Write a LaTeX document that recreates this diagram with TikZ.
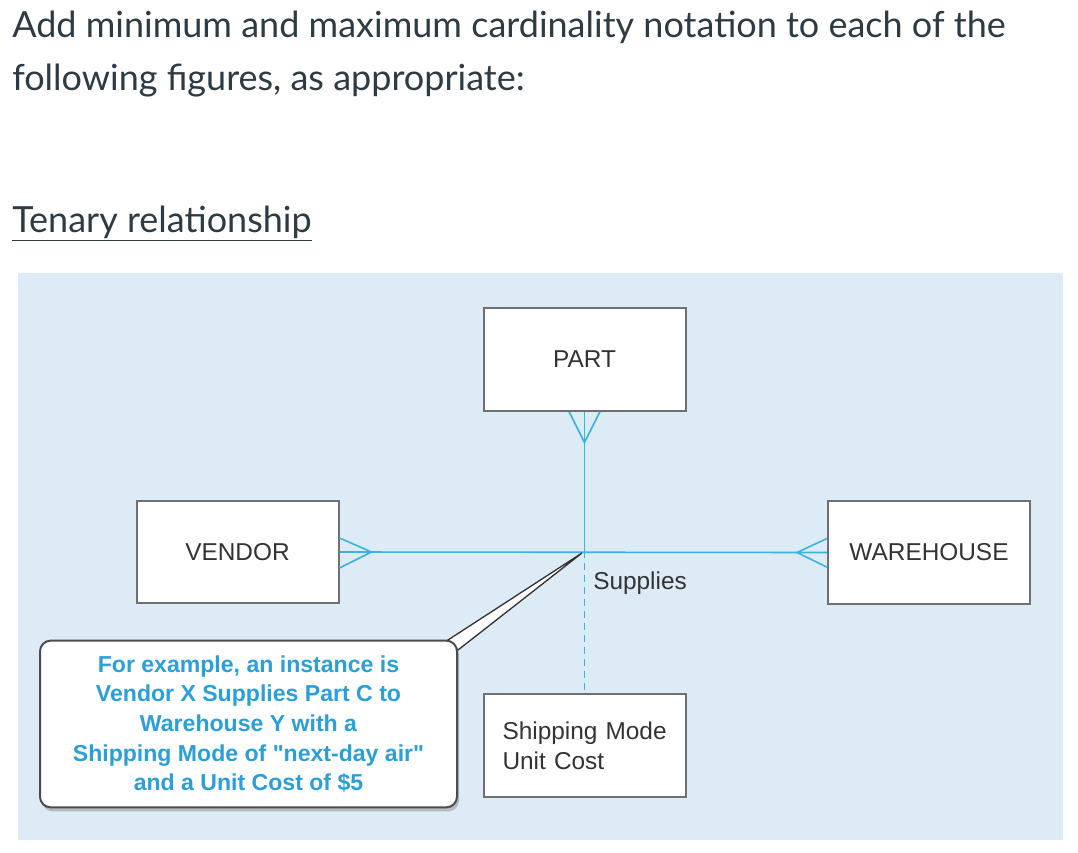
\documentclass[tikz,border=0pt]{standalone}
\usepackage{fontspec}
\setmainfont{Liberation Sans}
\newfontfamily\lato{Lato}
\usetikzlibrary{shadows}
\definecolor{panel}{HTML}{DDEBF7}
\definecolor{rel}{HTML}{3CB3DE}
\definecolor{note}{HTML}{2A9FD8}
\definecolor{boxline}{HTML}{707070}
\definecolor{ink}{HTML}{2D3B45}
\tikzset{
  entity/.style={draw=boxline, line width=1.5pt, fill=white, minimum width=151.5pt, minimum height=77pt, inner sep=0pt, font=\fontsize{18.3}{22.5}\selectfont, text=black!80},
  relline/.style={draw=rel, line width=1.2pt},
  head/.style={anchor=base west, inner sep=0pt, text=ink, font=\lato\fontsize{27}{32}\selectfont},
}
\begin{document}
\begin{tikzpicture}[x=0.75pt, y=-0.75pt]
\path[fill=white] (0,0) rectangle (1078,853);
\useasboundingbox (0,0) rectangle (1078,853);
\node[head] (h1) at (12,37) {Add minimum and maximum cardinality notation to each of the};
\node[head] (h2) at (12,90) {following figures, as appropriate:};
\node[head] (h3) at (12,232) {\underline{Tenary relationship}};
\path[fill=panel] (18,273) rectangle (1063,840);
% entities
\node[entity] (part) at (584.5,359.5) {PART};
\node[entity] (vendor) at (237.5,552) {VENDOR};
\node[entity] (wh) at (929,552.5) {WAREHOUSE};
\node[entity, align=left, text width=123pt, inner sep=0pt] (attr) at (584.5,745.5) {\mbox{Shipping Mode}\\Unit Cost};
\coordinate (c) at (584.5,551);
% relationship lines
\draw[relline] (vendor.east) -- (wh.west);
\draw[relline] (part.south) -- (c);
\draw[relline, dashed, dash pattern=on 5pt off 4pt, line width=0.9pt] (c) -- (attr.north);
% crow's feet
\draw[relline] ([yshift=10.5pt]vendor.east) -- ([xshift=24pt]vendor.east) -- ([yshift=-12pt]vendor.east);
\draw[relline] ([xshift=-11.5pt]part.south) -- ([yshift=-23pt]part.south) -- ([xshift=11.5pt]part.south);
\draw[relline] ([yshift=10.5pt]wh.west) -- ([xshift=-22.5pt]wh.west) -- ([yshift=-11pt]wh.west);
\node[anchor=base west, inner sep=0pt, font=\fontsize{18.3}{22}\selectfont, text=black!80] (rname) at (593,589) {Supplies};
% callout
\draw[draw=black!80, fill=white, line width=1pt] (448,640) -- (582,553) -- (458,650) -- cycle;
\node[draw=black!70, line width=1.5pt, fill=white, rounded corners=8pt, minimum width=312.75pt, minimum height=125pt,
  drop shadow={shadow xshift=1.5pt, shadow yshift=-3pt, fill=black!45},
  align=center, text=note, font=\bfseries\fontsize{17.3}{22.2}\selectfont] (callout) at (248.5,724)
  {For example, an instance is\\Vendor X Supplies Part C to\\Warehouse Y with a\\Shipping Mode of \textquotedbl next-day air\textquotedbl\\and a Unit Cost of \$5};
\end{tikzpicture}
\end{document}
